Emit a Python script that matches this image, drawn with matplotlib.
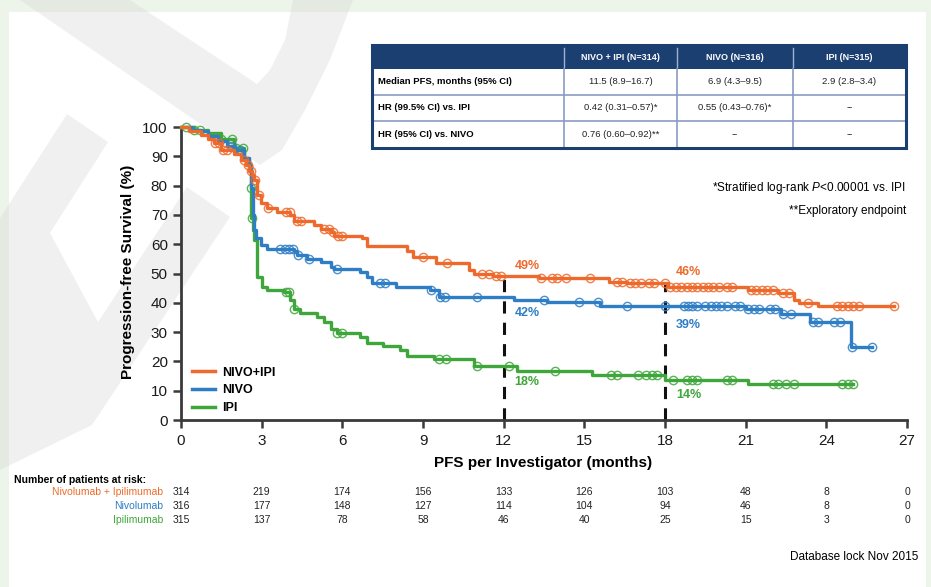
import numpy as np
import matplotlib
matplotlib.use("Agg")
import matplotlib.pyplot as plt
from matplotlib.patches import Rectangle, Polygon
from matplotlib.lines import Line2D
from matplotlib import transforms

plt.rcParams['font.family'] = ['Liberation Sans', 'DejaVu Sans']
plt.rcParams['mathtext.fontset'] = 'custom'
plt.rcParams['mathtext.rm'] = 'Liberation Sans'
plt.rcParams['mathtext.it'] = 'Liberation Sans:italic'

# Kaplan-Meier step points (months, % progression-free)
combo_t = [0, 0.3, 0.74, 1.0, 1.23, 1.48, 1.98, 2.22, 2.4, 2.53, 2.65, 2.72, 2.84, 2.96, 3.2, 3.58,
           4.07, 4.2, 4.94, 5.19, 5.56, 5.7, 6.73, 6.9, 8.4, 8.64, 9.5, 10.7, 10.9, 11.6, 13.3, 15.9,
           16.6, 18.1, 21.1, 22.2, 22.8, 23.0, 23.7, 26.5]
combo_s = [100, 98.5, 97.2, 96, 94.6, 92, 90.8, 88.9, 87, 85, 83.5, 81.9, 76.8, 74.2, 72.3, 71,
           69.8, 67.9, 66.6, 65.3, 64, 62.8, 62.1, 59.3, 57.7, 55.5, 53.5, 51.2, 50, 49.1, 48.4, 47.2,
           46.6, 45.5, 44.4, 43.2, 41, 40, 39, 39]
combo_cens = [1.25, 1.4, 1.55, 1.7, 2.35, 2.5, 2.62, 2.75, 2.9, 3.25, 3.9, 4.05, 4.3, 4.45, 5.3, 5.5,
              5.65, 5.85, 6.0, 9.0, 9.9, 11.2, 11.45, 11.7, 11.9, 13.4, 13.8, 14.0, 14.3, 15.2, 16.2,
              16.4, 16.7, 16.9, 17.1, 17.4, 17.6, 18.0, 18.2, 18.4, 18.6, 18.8, 19.0, 19.2, 19.4, 19.6,
              19.8, 20.0, 20.3, 20.5, 21.2, 21.4, 21.6, 21.8, 22.0, 22.4, 22.6, 23.3, 24.4, 24.6, 24.8,
              25.0, 25.2, 26.5]

nivo_t = [0, 0.4, 0.74, 1.0, 1.36, 1.7, 1.98, 2.35, 2.53, 2.6, 2.66, 2.72, 2.78, 2.96, 3.2, 4.2,
          4.32, 4.7, 5.19, 5.56, 5.68, 6.67, 6.9, 7.1, 8.0, 9.26, 9.6, 12.4, 13.6, 15.6, 21.0, 22.3,
          23.4, 24.9, 25.7]
nivo_s = [100, 99, 98.5, 97, 95.3, 93.5, 92, 89.5, 87, 79.3, 70, 65, 62.1, 59.6, 58.3, 57.7,
          56.4, 55.1, 53.8, 52.3, 51.5, 50.6, 48.7, 46.6, 45.5, 44.3, 42.1, 41.0, 40.4, 39.0, 38.0, 36.2,
          33.4, 25.0, 25.0]
nivo_cens = [1.9, 2.2, 3.7, 3.85, 4.0, 4.15, 4.35, 4.75, 5.8, 7.4, 7.6, 9.3, 9.65, 9.8, 11.0, 13.5,
             14.8, 15.5, 16.6, 18.0, 18.7, 18.85, 19.0, 19.2, 19.5, 19.7, 19.9, 20.1, 20.3, 20.6, 20.8,
             21.1, 21.3, 21.5, 21.9, 22.1, 22.4, 22.7, 23.5, 23.7, 24.3, 24.5, 24.95, 25.7]

ipi_t = [0, 0.5, 1.0, 1.48, 1.98, 2.35, 2.53, 2.6, 2.62, 2.66, 2.72, 2.84, 3.02, 3.2, 3.83, 4.07,
         4.2, 4.44, 5.06, 5.3, 5.56, 5.8, 6.67, 6.9, 7.53, 8.15, 8.4, 9.4, 10.9, 12.5, 15.3, 18.0,
         21.1, 25.0]
ipi_s = [100, 99, 97.8, 95.9, 92.7, 89.5, 87, 79.3, 69, 65, 61.5, 48.7, 45.5, 44.3, 43.6, 41.1,
         37.9, 36.6, 35.3, 33.4, 30.9, 29.6, 28.3, 26.4, 25.1, 23.9, 21.9, 20.7, 18.4, 16.8, 15.4, 13.7,
         12.3, 12.3]
ipi_cens = [0.2, 0.5, 0.7, 1.5, 1.9, 2.05, 2.3, 2.61, 2.64, 3.9, 4.0, 4.2, 5.8, 6.0, 9.6, 9.85, 11.0,
            12.2, 13.9, 16.0, 16.2, 17.0, 17.3, 17.5, 17.7, 18.3, 18.8, 19.0, 19.2, 20.3, 20.5, 22.0,
            22.2, 22.5, 22.8, 24.6, 24.8, 25.0]

# Number at risk
risk_times = [0, 3, 6, 9, 12, 15, 18, 21, 24, 27]
combo_risk = [314, 219, 174, 156, 133, 126, 103, 48, 8, 0]
nivo_risk = [316, 177, 148, 127, 114, 104, 94, 46, 8, 0]
ipi_risk = [315, 137, 78, 58, 46, 40, 25, 15, 3, 0]

# Landmark rates
landmarks = [12, 18]
combo_pct = ["49%", "46%"]
nivo_pct = ["42%", "39%"]
ipi_pct = ["18%", "14%"]

# Summary table
col_heads = ["NIVO + IPI (N=314)", "NIVO (N=316)", "IPI (N=315)"]
row_heads = ["Median PFS, months (95% CI)", "HR (99.5% CI) vs. IPI", "HR (95% CI) vs. NIVO"]
cells = [["11.5 (8.9\u201316.7)", "6.9 (4.3\u20139.5)", "2.9 (2.8\u20133.4)"],
         ["0.42 (0.31\u20130.57)*", "0.55 (0.43\u20130.76)*", "--"],
         ["0.76 (0.60\u20130.92)**", "--", "--"]]

ORANGE = "#ee6a2c"
BLUE = "#2e7dc5"
GREEN = "#3ea63b"
NAVY = "#1c3f72"

W, H = 931, 587
fig = plt.figure(figsize=(W / 100, H / 100), dpi=100)
fig.patch.set_facecolor("#edf5eb")

# background layer in pixel coordinates
bg = fig.add_axes([0, 0, 1, 1], zorder=0)
bg.set_xlim(0, W)
bg.set_ylim(H, 0)
bg.axis("off")
bg.add_patch(Rectangle((9, 12), 917, H - 12, facecolor="white", edgecolor="none"))
wm = dict(facecolor="#d0d0d0", edgecolor="none", alpha=0.3)
bg.add_patch(Polygon([(20, 0), (260, 165), (282, 150), (305, 110), (330, 60), (353, 0), (293, 0),
                      (285, 40), (270, 70), (257, 84), (130, 0)], **wm))
bg.add_patch(Polygon([(0, 218), (67, 114), (108, 142), (50, 233), (98, 322), (187, 187), (230, 217),
                      (92, 425), (0, 470)], **wm))

# main plot
ax = fig.add_axes([181 / W, 1 - 420 / H, 726 / W, 293 / H], zorder=1)
ax.set_facecolor("none")


def step_at(ts, ss, x):
    i = np.searchsorted(ts, x, side="right") - 1
    return np.array(ss)[i]


for ts, ss, cens, col in [(ipi_t, ipi_s, ipi_cens, GREEN),
                          (nivo_t, nivo_s, nivo_cens, BLUE),
                          (combo_t, combo_s, combo_cens, ORANGE)]:
    ax.step(ts, ss, where="post", color=col, lw=2.4, clip_on=False, zorder=3)
    ax.plot(cens, step_at(ts, ss, cens), "o", ms=6, mfc="none", mec=col, mew=1.0,
            alpha=0.85, clip_on=False, zorder=3)

for lm, top in zip(landmarks, [49.3, 46.6]):
    ax.plot([lm, lm], [0, top], color="#111111", lw=2.2, dashes=(4, 3), zorder=2)

for lm, cp, npc, ip, ys in zip(landmarks, combo_pct, nivo_pct, ipi_pct,
                               [(52.6, 36.5, 13.0), (50.5, 32.4, 8.5)]):
    ax.text(lm + 0.4, ys[0], cp, color=ORANGE, fontsize=9, fontweight="bold", va="center")
    ax.text(lm + 0.4, ys[1], npc, color=BLUE, fontsize=9, fontweight="bold", va="center")
    ax.text(lm + 0.4, ys[2], ip, color=GREEN, fontsize=9, fontweight="bold", va="center")

ax.set_xlim(0, 27)
ax.set_ylim(0, 100)
ax.set_xticks(risk_times)
ax.set_yticks(range(0, 101, 10))
for s in ["top", "right"]:
    ax.spines[s].set_visible(False)
for s in ["left", "bottom"]:
    ax.spines[s].set_color("#3a3a3a")
    ax.spines[s].set_linewidth(2)
ax.tick_params(axis="both", colors="#3a3a3a", width=1.8, length=6, labelsize=11,
               labelcolor="#1a1a1a")
ax.tick_params(axis="x", pad=4)

legend_handles = [Line2D([], [], color=ORANGE, lw=2.5), Line2D([], [], color=BLUE, lw=2.5),
                  Line2D([], [], color=GREEN, lw=2.5)]
ax.legend(legend_handles, ["NIVO+IPI", "NIVO", "IPI"], loc="upper left",
          bbox_to_anchor=(0.0, 0.22), frameon=False, handlelength=1.8, handletextpad=0.6,
          labelspacing=0.45, prop=dict(size=9, weight="bold"))

fig.text(128 / W, 1 - 272 / H, "Progression-free Survival (%)", rotation=90, ha="center",
         va="center", fontsize=11, fontweight="bold")
fig.text(543 / W, 1 - 463 / H, "PFS per Investigator (months)", ha="center", va="center",
         fontsize=11, fontweight="bold")

# footnotes
bg.text(906, 188, r"*Stratified log-rank $\it{P}$<0.00001 vs. IPI", ha="right", va="center",
        fontsize=8.5)
bg.text(906, 211, "**Exploratory endpoint", ha="right", va="center", fontsize=8.5)
bg.text(918, 557, "Database lock Nov 2015", ha="right", va="center", fontsize=8.5)

# at-risk table
bg.text(14, 480, "Number of patients at risk:", ha="left", va="center", fontsize=7.5,
        fontweight="bold")
tr = transforms.blended_transform_factory(ax.transData, bg.transData)
for y, name, vals, col in [(492, "Nivolumab + Ipilimumab", combo_risk, ORANGE),
                           (506, "Nivolumab", nivo_risk, BLUE),
                           (520, "Ipilimumab", ipi_risk, GREEN)]:
    bg.text(163, y, name, ha="right", va="center", fontsize=7.5, color=col)
    for t, v in zip(risk_times, vals):
        ax.text(t, y, str(v), transform=tr, ha="center", va="center", fontsize=7.5,
                color="#222222", clip_on=False)

# summary table
xs = [372, 564, 677, 793, 906]
ys = [45, 69, 95, 121, 148]
bg.add_patch(Rectangle((xs[0], ys[0]), xs[-1] - xs[0], ys[1] - ys[0], facecolor=NAVY,
                       edgecolor="none", zorder=2))
for x in xs[1:-1]:
    bg.plot([x, x], [ys[0] + 3, ys[1] - 2], color="#9fb0d0", lw=1, zorder=3)
    bg.plot([x, x], [ys[1], ys[-1]], color="#8a9cc4", lw=1.2, zorder=3)
for y in ys[2:-1]:
    bg.plot([xs[0], xs[-1]], [y, y], color="#8a9cc4", lw=1.2, zorder=3)
bg.add_patch(Rectangle((xs[0], ys[0]), xs[-1] - xs[0], ys[-1] - ys[0], facecolor="none",
                       edgecolor=NAVY, lw=2.2, zorder=4))
for j, h in enumerate(col_heads):
    bg.text((xs[j + 1] + xs[j + 2]) / 2, (ys[0] + ys[1]) / 2, h, ha="center", va="center",
            fontsize=6.5, fontweight="bold", color="white", zorder=5)
for i, r in enumerate(row_heads):
    yc = (ys[i + 1] + ys[i + 2]) / 2
    bg.text(xs[0] + 6, yc, r, ha="left", va="center", fontsize=6.8, fontweight="bold", zorder=5)
    for j, c in enumerate(cells[i]):
        bg.text((xs[j + 1] + xs[j + 2]) / 2, yc, c, ha="center", va="center", fontsize=6.8,
                color="#222222", zorder=5)

fig.savefig("out.png", dpi=100, facecolor=fig.get_facecolor())
